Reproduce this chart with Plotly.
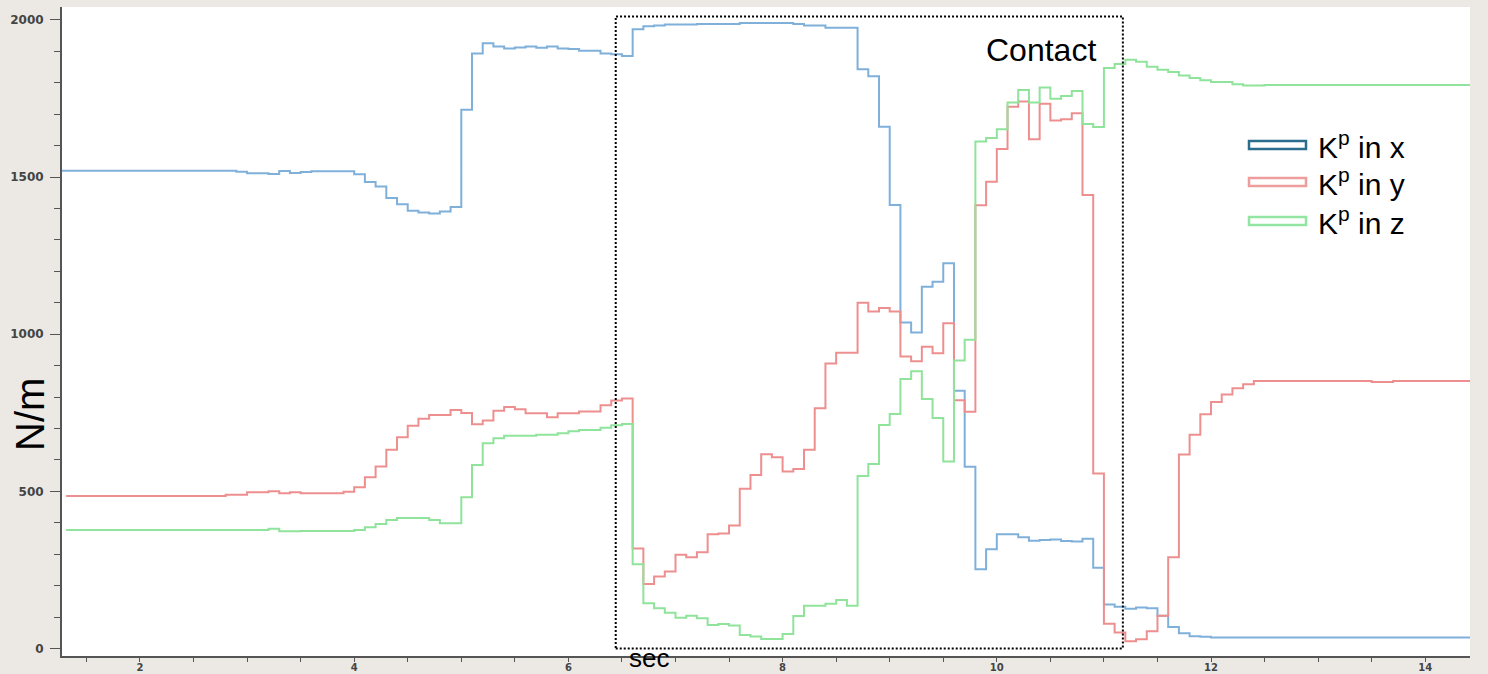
import plotly.graph_objects as go

# ---- data: step-change points (time in sec, stiffness in N/m) ----
kx_t = [1.27, 2.9, 3.0, 3.2, 3.3, 3.4, 3.5, 3.6, 4.0, 4.1, 4.2, 4.3, 4.4, 4.5, 4.6, 4.7, 4.8, 4.9,
        5.0, 5.1, 5.2, 5.3, 5.4, 5.5, 5.6, 5.7, 5.8, 5.9, 6.0, 6.1, 6.3, 6.4, 6.5,
        6.6, 6.7, 6.8, 6.9, 7.2, 7.6, 8.1, 8.2, 8.4, 8.7, 8.8, 8.9, 9.0, 9.1, 9.2, 9.3, 9.4,
        9.5, 9.6, 9.7, 9.8, 9.9, 10.0, 10.2, 10.3, 10.4, 10.5, 10.6, 10.7, 10.8, 10.9,
        11.0, 11.1, 11.2, 11.3, 11.4, 11.5, 11.6, 11.7, 11.8, 11.9, 12.0, 14.42]
kx_v = [1520, 1517, 1512, 1510, 1519, 1513, 1516, 1518, 1509, 1484, 1470, 1433, 1413, 1393, 1387, 1384, 1390, 1405,
        1714, 1893, 1926, 1915, 1909, 1912, 1915, 1911, 1915, 1909, 1907, 1902, 1893, 1891, 1885,
        1970, 1980, 1982, 1985, 1987, 1990, 1987, 1982, 1975, 1843, 1821, 1660, 1411, 1037, 1005, 1151, 1167,
        1226, 820, 578, 252, 316, 363, 354, 343, 345, 347, 342, 340, 349, 257,
        140, 133, 126, 130, 128, 104, 68, 48, 39, 37, 35, 35]

ky_t = [1.31, 2.8, 3.0, 3.2, 3.3, 3.4, 3.5, 3.9, 4.0, 4.1, 4.2, 4.3, 4.4, 4.5, 4.6, 4.7, 4.9,
        5.0, 5.1, 5.2, 5.3, 5.4, 5.5, 5.6, 5.8, 5.9, 6.1, 6.3, 6.4, 6.5,
        6.6, 6.7, 6.8, 6.9, 7.0, 7.1, 7.2, 7.3, 7.4, 7.5, 7.6, 7.7, 7.8, 7.9, 8.0, 8.1, 8.2, 8.3, 8.4, 8.5,
        8.7, 8.8, 8.9, 9.0, 9.1, 9.2, 9.3, 9.4, 9.5, 9.6, 9.7, 9.8, 9.9, 10.0, 10.1, 10.2, 10.3, 10.4,
        10.5, 10.6, 10.7, 10.8, 10.9, 11.0, 11.1, 11.2, 11.3, 11.4, 11.5, 11.6, 11.7, 11.8, 11.9,
        12.0, 12.1, 12.2, 12.3, 12.4, 13.5, 13.7, 14.42]
ky_v = [485, 489, 497, 500, 494, 497, 494, 499, 513, 545, 579, 632, 672, 709, 731, 743, 759,
        749, 713, 725, 756, 768, 761, 748, 736, 748, 754, 774, 789, 795,
        318, 205, 229, 245, 298, 290, 306, 363, 366, 391, 508, 552, 618, 608, 563, 571, 632, 764, 907, 941,
        1100, 1072, 1083, 1072, 929, 914, 960, 939, 1035, 790, 753, 1410, 1485, 1589, 1724, 1740, 1620, 1733,
        1680, 1684, 1703, 1443, 557, 79, 51, 23, 29, 55, 104, 290, 617, 680, 745,
        784, 808, 828, 841, 851, 848, 851, 851]

kz_t = [1.31, 3.2, 3.3, 3.5, 4.0, 4.1, 4.2, 4.3, 4.4, 4.7, 4.8, 5.0, 5.1, 5.2, 5.3, 5.4, 5.7, 5.9,
        6.0, 6.1, 6.3, 6.4, 6.5, 6.6, 6.7, 6.8, 6.9, 7.0, 7.1, 7.2, 7.3, 7.4, 7.5, 7.6, 7.7, 7.8,
        8.0, 8.1, 8.2, 8.4, 8.5, 8.6, 8.7, 8.8, 8.9, 9.0, 9.1, 9.2, 9.3, 9.4, 9.5, 9.6, 9.7,
        9.8, 9.9, 10.0, 10.1, 10.2, 10.3, 10.4, 10.5, 10.6, 10.7, 10.8, 10.9, 11.0, 11.1, 11.2,
        11.3, 11.4, 11.5, 11.6, 11.7, 11.8, 11.9, 12.0, 12.2, 12.3, 12.5, 14.42]
kz_v = [377, 381, 373, 374, 377, 386, 396, 409, 415, 409, 398, 481, 584, 653, 669, 677, 680, 685,
        691, 695, 702, 710, 714, 268, 144, 128, 114, 98, 104, 96, 75, 78, 73, 43, 38, 30,
        46, 103, 136, 142, 154, 136, 549, 587, 711, 746, 857, 882, 794, 733, 595, 916, 982,
        1613, 1624, 1652, 1737, 1777, 1737, 1785, 1749, 1758, 1774, 1669, 1659, 1847, 1860, 1873,
        1867, 1851, 1841, 1834, 1823, 1815, 1808, 1802, 1795, 1791, 1793, 1793]

series_names = ["K<sup>p</sup> in x", "K<sup>p</sup> in y", "K<sup>p</sup> in z"]
line_colors = ["#7fb0da", "#ee8f8f", "#8fe39b"]
legend_colors = ["#2b6d8c", "#ef9c9c", "#93e6a2"]

contact_x = [6.442, 11.177]
contact_y = [0, 2011]

BG = "#ece9e5"
AX = "#555555"

fig = go.Figure()
for t, v, c, n in [(kx_t, kx_v, line_colors[0], series_names[0]),
                   (ky_t, ky_v, line_colors[1], series_names[1]),
                   (kz_t, kz_v, line_colors[2], series_names[2])]:
    fig.add_trace(go.Scatter(x=t, y=v, mode="lines", name=n,
                             line=dict(color=c, width=2, shape="hv"),
                             showlegend=False))

# dotted contact box
fig.add_shape(type="rect", xref="x", yref="y",
              x0=contact_x[0], x1=contact_x[1], y0=contact_y[0], y1=contact_y[1],
              line=dict(color="black", width=2, dash="2px,2px"), fillcolor="rgba(0,0,0,0)")

fig.add_annotation(x=10.41, y=1904, xref="x", yref="y", text="Contact", showarrow=False,
                   font=dict(family="Liberation Sans, Arial", size=32, color="black"),
                   xanchor="center", yanchor="middle")

# custom legend (outlined rectangles + labels)
L, T, PW, PH = 62, 7, 1408, 649
def px(xp):
    return (xp - L) / PW
def py(yp):
    return (T + PH - yp) / PH

leg_centers = [145, 182, 221]
for yc, col, name in zip(leg_centers, legend_colors, series_names):
    fig.add_shape(type="rect", xref="paper", yref="paper",
                  x0=px(1249), x1=px(1306), y0=py(yc + 4), y1=py(yc - 4),
                  line=dict(color=col, width=2.5), fillcolor="white")
    fig.add_annotation(x=px(1316), y=py(yc), xref="paper", yref="paper", text=name,
                       showarrow=False, xanchor="left", yanchor="middle",
                       font=dict(family="Liberation Sans, Arial", size=30, color="black"))

# axis titles as annotations
fig.add_annotation(x=px(30), y=py(415), xref="paper", yref="paper", text="N/m", textangle=-90,
                   showarrow=False, xanchor="center", yanchor="middle",
                   font=dict(family="Liberation Sans, Arial", size=40, color="black"))
fig.add_annotation(x=px(649), y=py(674), xref="paper", yref="paper", text="sec",
                   showarrow=False, xanchor="center", yanchor="bottom", borderpad=0,
                   font=dict(family="Liberation Sans Narrow, Arial Narrow, Liberation Sans", size=26, color="black"))

ytickfont = dict(family="DejaVu Sans", size=12, color="#444444", weight="bold")
xtickfont = dict(family="DejaVu Sans", size=10, color="#444444", weight="bold")

fig.update_layout(
    width=1488, height=674, autosize=False,
    margin=dict(l=L, r=1488 - L - PW, t=T, b=674 - T - PH, pad=0),
    paper_bgcolor=BG, plot_bgcolor="white",
    showlegend=False,
    xaxis=dict(range=[1.272, 14.418], showgrid=False, zeroline=False, automargin=False,
               showline=True, linecolor=AX, linewidth=2,
               tickmode="linear", tick0=0, dtick=2, ticks="outside", ticklen=4,
               tickcolor=AX, tickwidth=1, tickfont=xtickfont, ticklabelstandoff=-3,
               minor=dict(dtick=0.5, tick0=0, ticks="outside", ticklen=4, tickcolor=AX, showgrid=False)),
    yaxis=dict(range=[-24, 2041], showgrid=False, zeroline=False, automargin=False,
               showline=True, linecolor=AX, linewidth=2,
               tickmode="linear", tick0=0, dtick=500, ticks="outside", ticklen=10,
               tickcolor=AX, tickwidth=1, tickfont=ytickfont, ticklabelstandoff=4,
               minor=dict(dtick=100, tick0=0, ticks="outside", ticklen=6, tickcolor=AX, showgrid=False)),
)

fig.write_html("out.html", config={"responsive": False, "displayModeBar": False},
               post_script="document.body.style.margin='0';document.body.style.padding='0';"
                           "document.body.style.overflow='hidden';"
                           "document.documentElement.style.overflow='hidden';")
